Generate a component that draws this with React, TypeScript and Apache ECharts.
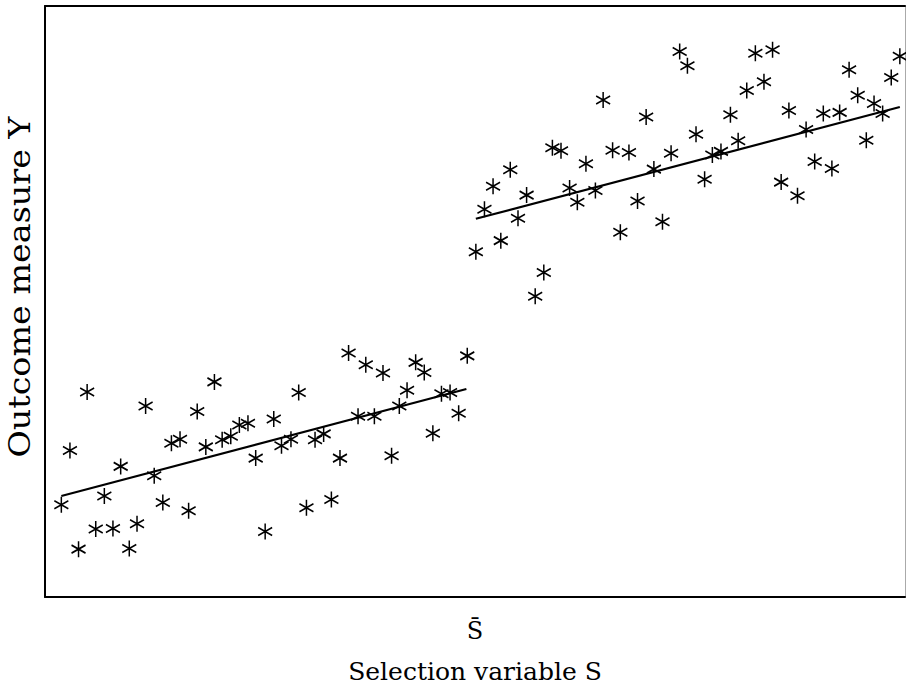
import React, { useEffect, useRef } from "react";
import * as echarts from "echarts";

// Selection variable S (0–100 scale), cut-off at S̄ = 50
const belowX = [1.9, 2.9, 3.9, 4.9, 5.9, 6.9, 7.9, 8.8, 9.8, 10.7, 11.7, 12.7, 13.7, 14.7, 15.7, 16.7, 17.7, 18.7, 19.7, 20.6, 21.6, 22.6, 23.6, 24.5, 25.6, 26.6, 27.5, 28.6, 29.5, 30.4, 31.4, 32.4, 33.3, 34.3, 35.3, 36.4, 37.3, 38.3, 39.3, 40.3, 41.2, 42.1, 43.1, 44.1, 45.1, 46.1, 47.1, 48.1, 49.1];
const belowY = [15.6, 24.8, 8.1, 34.7, 11.5, 17.1, 11.6, 22.1, 8.2, 12.4, 32.3, 20.5, 16.0, 26.0, 26.7, 14.6, 31.4, 25.4, 36.4, 26.6, 27.2, 29.1, 29.4, 23.5, 11.1, 30.1, 25.6, 26.7, 34.6, 15.1, 26.6, 27.6, 16.5, 23.5, 41.3, 30.6, 39.3, 30.6, 37.9, 23.9, 32.3, 35.0, 39.7, 38.0, 27.7, 34.4, 34.6, 31.1, 40.8];

const aboveX = [50.1, 51.1, 52.1, 53.0, 54.1, 55.0, 56.0, 57.0, 58.0, 59.0, 60.0, 61.0, 61.9, 62.9, 64.0, 64.9, 66.0, 66.9, 67.9, 68.9, 69.9, 70.8, 71.8, 72.8, 73.8, 74.7, 75.7, 76.7, 77.6, 78.6, 79.7, 80.6, 81.6, 82.6, 83.6, 84.6, 85.6, 86.5, 87.5, 88.5, 89.5, 90.5, 91.5, 92.4, 93.5, 94.5, 95.5, 96.4, 97.4, 98.4, 99.4];
const aboveY = [58.4, 65.6, 69.5, 60.3, 72.3, 64.1, 68.0, 50.9, 54.9, 76.0, 75.5, 69.2, 66.8, 73.3, 68.8, 84.1, 75.6, 61.7, 75.2, 67.0, 81.2, 72.4, 63.5, 75.1, 92.3, 89.9, 78.3, 70.7, 74.8, 75.4, 81.6, 77.2, 85.7, 92.0, 87.2, 92.6, 70.2, 82.3, 67.9, 79.1, 73.7, 81.8, 72.5, 82.0, 89.2, 84.9, 77.3, 83.5, 81.8, 87.9, 91.5];

// Fitted regression lines (end points)
const fitBelowX = [1.9, 49.0];
const fitBelowY = [17.1, 35.2];
const fitAboveX = [50.1, 99.4];
const fitAboveY = [64.0, 82.9];

const cutoff = [50];
const cutoffLabel = "S\u0304";
const xTitle = "Selection variable S";
const yTitle = "Outcome measure Y";

const zip = (xs: number[], ys: number[]) => xs.map((x, i) => [x, ys[i]]);

const FONT = "'DejaVu Serif', 'Liberation Serif', serif";
const STAR = "path://M7,0L7,16M0,4L14,12M0,12L14,4";

export default function App() {
  const ref = useRef<HTMLDivElement>(null);
  useEffect(() => {
    if (!ref.current) return;
    const chart = echarts.init(ref.current, undefined, { renderer: "svg" });
    const starSeries = (data: number[][]) => ({
      type: "scatter",
      data,
      symbol: STAR,
      symbolSize: [14, 16],
      itemStyle: {
        color: "rgba(0,0,0,0)",
        borderColor: "#000",
        borderWidth: 1.6,
        opacity: 1,
      },
      silent: true,
      z: 3,
    });
    const fitSeries = (data: number[][]) => ({
      type: "line",
      data,
      showSymbol: false,
      symbol: "none",
      lineStyle: { color: "#000", width: 2.2 },
      silent: true,
      z: 4,
    });
    chart.setOption({
      animation: false,
      backgroundColor: "#fff",
      grid: {
        left: 45,
        right: 1,
        top: 6,
        bottom: 90,
        containLabel: false,
        outerBoundsMode: "none",
      },
      xAxis: [
        {
          type: "value",
          min: 0,
          max: 100,
          position: "bottom",
          splitLine: { show: false },
          axisTick: { show: false },
          axisLine: { show: true, onZero: false, lineStyle: { color: "#000", width: 2 } },
          axisLabel: {
            customValues: cutoff,
            formatter: () => cutoffLabel,
            color: "#000",
            fontFamily: FONT,
            fontSize: 24,
            margin: 22,
          },
          name: xTitle,
          nameLocation: "middle",
          nameGap: 62,
          nameTextStyle: { color: "#000", fontFamily: FONT, fontSize: 25 },
        },
        {
          type: "value",
          min: 0,
          max: 100,
          position: "top",
          splitLine: { show: false },
          axisTick: { show: false },
          axisLabel: { show: false },
          axisLine: { show: true, onZero: false, lineStyle: { color: "#000", width: 2 } },
        },
      ],
      yAxis: [
        {
          type: "value",
          min: 0,
          max: 100,
          position: "left",
          splitLine: { show: false },
          axisTick: { show: false },
          axisLabel: { show: false },
          axisLine: { show: true, onZero: false, lineStyle: { color: "#000", width: 2 } },
        },
        {
          type: "value",
          min: 0,
          max: 100,
          position: "right",
          splitLine: { show: false },
          axisTick: { show: false },
          axisLabel: { show: false },
          axisLine: { show: true, onZero: false, lineStyle: { color: "#aaa", width: 1 } },
        },
      ],
      graphic: [
        {
          type: "text",
          x: 20,
          y: 287,
          rotation: Math.PI / 2,
          scaleX: 1.15,
          style: {
            text: yTitle,
            fill: "#000",
            font: `29px ${FONT}`,
            align: "center",
            verticalAlign: "middle",
          },
        },
      ],
      series: [
        starSeries(zip(belowX, belowY)),
        starSeries(zip(aboveX, aboveY)),
        fitSeries(zip(fitBelowX, fitBelowY)),
        fitSeries(zip(fitAboveX, fitAboveY)),
      ],
    });
    return () => chart.dispose();
  }, []);
  return (
    <div
      ref={ref}
      style={{ position: "absolute", left: 0, top: 0, width: 906, height: 687 }}
    />
  );
}
